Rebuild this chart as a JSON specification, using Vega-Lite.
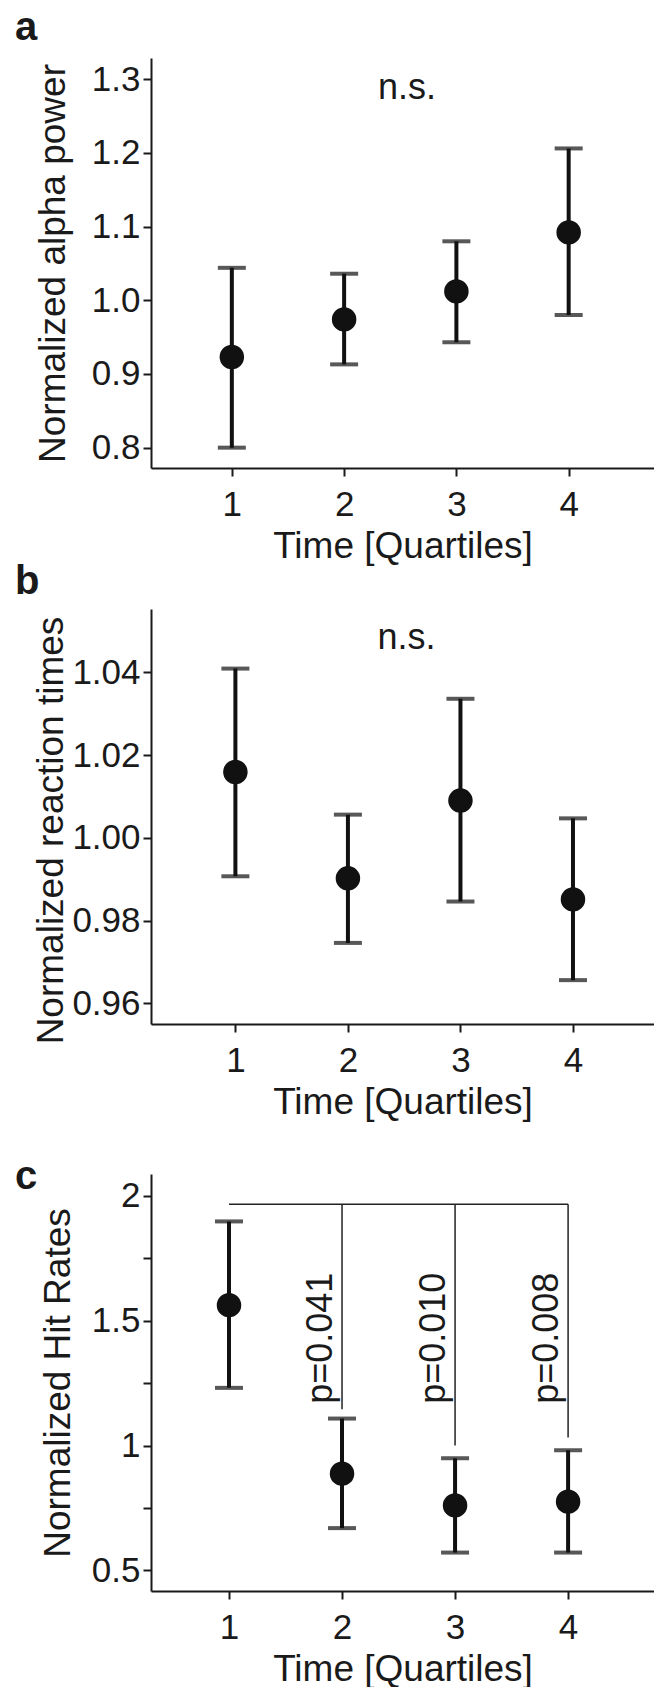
{
  "$schema": "https://vega.github.io/schema/vega-lite/v6.json",
  "padding": {"left": 15, "top": 8, "right": 0, "bottom": 0},
  "background": "white",
  "spacing": 141,
  "bounds": "flush",
  "vconcat": [
    {
      "title": {"text": "a", "dy": -6},
      "width": 503,
      "height": 410,
      "data": {"values": [
        {"q": 1, "m": 0.923, "lo": 0.800, "hi": 1.044},
        {"q": 2, "m": 0.974, "lo": 0.913, "hi": 1.036},
        {"q": 3, "m": 1.012, "lo": 0.943, "hi": 1.080},
        {"q": 4, "m": 1.092, "lo": 0.980, "hi": 1.206}
      ]},
      "layer": [
        {
          "mark": {"type": "errorbar", "ticks": {"color": "#111111"}, "rule": {"color": "#111111"}, "size": 28, "thickness": 4},
          "encoding": {
            "x": {"field": "q", "type": "quantitative", "title": "Time [Quartiles]", "scale": {"domain": [0.28, 4.76], "nice": false, "zero": false}, "axis": {"values": [1, 2, 3, 4], "format": "d"}},
            "y": {"field": "lo", "type": "quantitative", "title": "Normalized alpha power", "scale": {"domain": [0.7724, 1.3287], "nice": false, "zero": false}, "axis": {"values": [0.8, 0.9, 1.0, 1.1, 1.2, 1.3], "format": ".1f", "titleX": -87}},
            "y2": {"field": "hi"}
          }
        },
        {
          "mark": {"type": "point", "filled": true, "size": 600, "opacity": 1, "color": "#111111"},
          "encoding": {
            "x": {"field": "q", "type": "quantitative", "title": "Time [Quartiles]"},
            "y": {"field": "m", "type": "quantitative", "title": "Normalized alpha power"}
          }
        },
        {
          "data": {"values": [{"q": 2.56, "y": 1.273, "label": "n.s."}]},
          "mark": {"type": "text", "fontSize": 36, "baseline": "alphabetic", "align": "center", "color": "#1a1a1a"},
          "encoding": {
            "x": {"field": "q", "type": "quantitative", "title": "Time [Quartiles]"},
            "y": {"field": "y", "type": "quantitative", "title": "Normalized alpha power"},
            "text": {"field": "label"}
          }
        }
      ]
    },
    {
      "spacing": 150,
      "bounds": "flush",
      "vconcat": [
        {
          "title": {"text": "b", "dy": -3},
          "width": 503,
          "height": 415,
          "data": {"values": [
            {"q": 1, "m": 1.0159, "lo": 0.9907, "hi": 1.0409},
            {"q": 2, "m": 0.9902, "lo": 0.9746, "hi": 1.0056},
            {"q": 3, "m": 1.0090, "lo": 0.9846, "hi": 1.0336},
            {"q": 4, "m": 0.9851, "lo": 0.9656, "hi": 1.0047}
          ]},
          "layer": [
            {
              "mark": {"type": "errorbar", "ticks": {"color": "#111111"}, "rule": {"color": "#111111"}, "size": 28, "thickness": 4},
              "encoding": {
                "x": {"field": "q", "type": "quantitative", "title": "Time [Quartiles]", "scale": {"domain": [0.25, 4.72], "nice": false, "zero": false}, "axis": {"values": [1, 2, 3, 4], "format": "d"}},
                "y": {"field": "lo", "type": "quantitative", "title": "Normalized reaction times", "scale": {"domain": [0.955, 1.0553], "nice": false, "zero": false}, "axis": {"values": [0.96, 0.98, 1.0, 1.02, 1.04], "format": ".2f", "titleX": -89, "titleY": 221}},
                "y2": {"field": "hi"}
              }
            },
            {
              "mark": {"type": "point", "filled": true, "size": 600, "opacity": 1, "color": "#111111"},
              "encoding": {
                "x": {"field": "q", "type": "quantitative", "title": "Time [Quartiles]"},
                "y": {"field": "m", "type": "quantitative", "title": "Normalized reaction times"}
              }
            },
            {
              "data": {"values": [{"q": 2.52, "y": 1.0456, "label": "n.s."}]},
              "mark": {"type": "text", "fontSize": 36, "baseline": "alphabetic", "align": "center", "color": "#1a1a1a"},
              "encoding": {
                "x": {"field": "q", "type": "quantitative", "title": "Time [Quartiles]"},
                "y": {"field": "y", "type": "quantitative", "title": "Normalized reaction times"},
                "text": {"field": "label"}
              }
            }
          ]
        },
        {
          "title": {"text": "c", "dy": 27},
          "width": 503,
          "height": 417,
          "data": {"values": [
            {"q": 1, "m": 1.5625, "lo": 1.231, "hi": 1.898},
            {"q": 2, "m": 0.887, "lo": 0.669, "hi": 1.108},
            {"q": 3, "m": 0.760, "lo": 0.571, "hi": 0.949},
            {"q": 4, "m": 0.775, "lo": 0.571, "hi": 0.981}
          ]},
          "layer": [
            {
              "data": {"values": [
                {"xa": 1, "xb": 4, "ya": 1.967, "yb": 1.967},
                {"xa": 2, "xb": 2, "ya": 1.967, "yb": 1.145},
                {"xa": 3, "xb": 3, "ya": 1.967, "yb": 1.0},
                {"xa": 4, "xb": 4, "ya": 1.967, "yb": 1.032}
              ]},
              "mark": {"type": "rule", "color": "#222222", "strokeWidth": 1.5},
              "encoding": {
                "x": {"field": "xa", "type": "quantitative", "title": "Time [Quartiles]", "scale": {"domain": [0.31, 4.76], "nice": false, "zero": false}, "axis": {"values": [1, 2, 3, 4], "format": "d"}},
                "x2": {"field": "xb"},
                "y": {"field": "ya", "type": "quantitative", "title": "Normalized Hit Rates", "scale": {"domain": [0.417, 2.088], "nice": false, "zero": false}, "axis": {"values": [0.5, 0.75, 1, 1.25, 1.5, 1.75, 2], "labelExpr": "datum.value * 2 == round(datum.value * 2) ? toString(datum.value) : ''", "titleX": -82}},
                "y2": {"field": "yb"}
              }
            },
            {
              "mark": {"type": "errorbar", "ticks": {"color": "#111111"}, "rule": {"color": "#111111"}, "size": 28, "thickness": 4},
              "encoding": {
                "x": {"field": "q", "type": "quantitative", "title": "Time [Quartiles]"},
                "y": {"field": "lo", "type": "quantitative", "title": "Normalized Hit Rates"},
                "y2": {"field": "hi"}
              }
            },
            {
              "mark": {"type": "point", "filled": true, "size": 600, "opacity": 1, "color": "#111111"},
              "encoding": {
                "x": {"field": "q", "type": "quantitative", "title": "Time [Quartiles]"},
                "y": {"field": "m", "type": "quantitative", "title": "Normalized Hit Rates"}
              }
            },
            {
              "data": {"values": [
                {"q": 1.91, "y": 1.43, "label": "p=0.041"},
                {"q": 2.91, "y": 1.43, "label": "p=0.010"},
                {"q": 3.91, "y": 1.43, "label": "p=0.008"}
              ]},
              "mark": {"type": "text", "fontSize": 36, "angle": 270, "baseline": "alphabetic", "align": "center", "color": "#1a1a1a"},
              "encoding": {
                "x": {"field": "q", "type": "quantitative", "title": "Time [Quartiles]"},
                "y": {"field": "y", "type": "quantitative", "title": "Normalized Hit Rates"},
                "text": {"field": "label"}
              }
            }
          ]
        }
      ]
    }
  ],
  "config": {
    "font": "Liberation Sans",
    "view": {"stroke": null},
    "text": {"font": "Liberation Sans"},
    "axis": {
      "grid": false,
      "domainColor": "#1a1a1a",
      "domainWidth": 2,
      "tickColor": "#1a1a1a",
      "tickWidth": 2,
      "tickSize": 8,
      "labelFont": "Liberation Sans",
      "labelFontSize": 35,
      "labelColor": "#1a1a1a",
      "labelFlush": false,
      "labelOverlap": false,
      "labelPadding": 4,
      "titleFont": "Liberation Sans",
      "titleFontSize": 37,
      "titleFontWeight": "normal",
      "titleColor": "#1a1a1a"
    },
    "axisX": {"labelPadding": 11, "titleY": 60, "titleBaseline": "top"},
    "axisY": {"titleBaseline": "alphabetic", "labelPadding": 3},
    "title": {"anchor": "start", "frame": "group", "font": "Liberation Sans", "fontSize": 40, "fontWeight": "bold", "color": "#1a1a1a", "dx": -136, "baseline": "alphabetic", "offset": 0}
  }
}
